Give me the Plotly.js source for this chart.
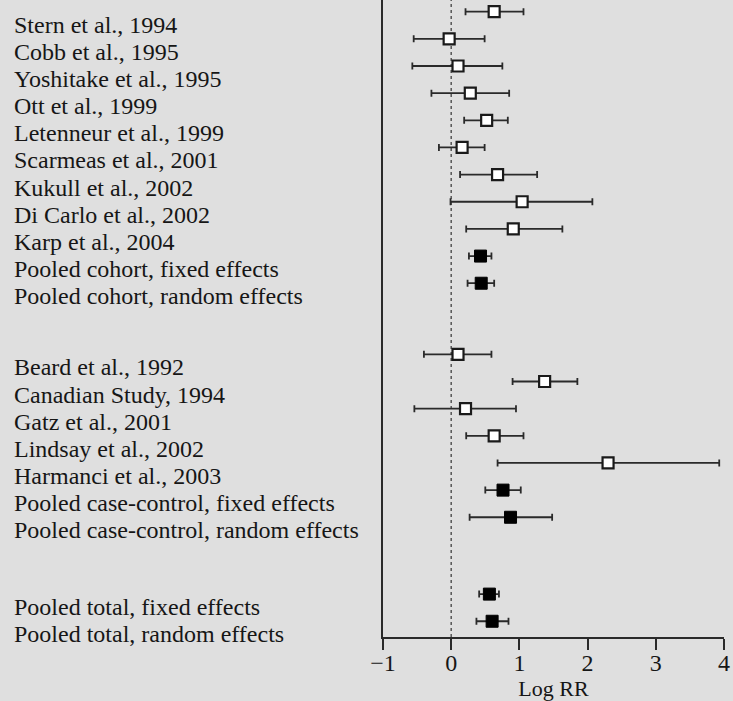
<!DOCTYPE html>
<html><head><meta charset="utf-8">
<script src="https://cdn.plot.ly/plotly-3.0.1.min.js"></script>
<style>html,body{margin:0;padding:0;background:#dfdfdf;}#chart{width:733px;height:701px;}</style>
</head><body><div id="chart"></div>
<script>
// ---- data (log relative risk, lower / upper limits) ----
const cohortLabels = ["Stern et al., 1994","Cobb et al., 1995","Yoshitake et al., 1995","Ott et al., 1999","Letenneur et al., 1999","Scarmeas et al., 2001","Kukull et al., 2002","Di Carlo et al., 2002","Karp et al., 2004","Pooled cohort, fixed effects","Pooled cohort, random effects"];
const cohortEst = [0.63,-0.03,0.10,0.28,0.52,0.16,0.68,1.04,0.91,0.43,0.44];
const cohortLo  = [0.21,-0.55,-0.57,-0.29,0.19,-0.18,0.13,-0.01,0.22,0.26,0.24];
const cohortHi  = [1.06,0.49,0.75,0.85,0.83,0.49,1.26,2.07,1.63,0.59,0.63];

const ccLabels = ["Beard et al., 1992","Canadian Study, 1994","Gatz et al., 2001","Lindsay et al., 2002","Harmanci et al., 2003","Pooled case-control, fixed effects","Pooled case-control, random effects"];
const ccEst = [0.10,1.37,0.21,0.63,2.30,0.76,0.87];
const ccLo  = [-0.40,0.90,-0.54,0.22,0.68,0.50,0.27];
const ccHi  = [0.59,1.85,0.95,1.06,3.93,1.02,1.48];

const totalLabels = ["Pooled total, fixed effects","Pooled total, random effects"];
const totalEst = [0.56,0.60];
const totalLo  = [0.41,0.37];
const totalHi  = [0.70,0.84];

const xTickVals = [-1,0,1,2,3,4];
const xTickText = ["\u22121","0","1","2","3","4"];

// ---- layout helpers ----
const groups = [
  {labels: cohortLabels, est: cohortEst, lo: cohortLo, hi: cohortHi},
  {labels: ccLabels, est: ccEst, lo: ccLo, hi: ccHi},
  {labels: totalLabels, est: totalEst, lo: totalLo, hi: totalHi}
];
const groupGaps = [0, 2.62, 2.83];

const study = {x:[], y:[], plus:[], minus:[]};
const pooled = {x:[], y:[], plus:[], minus:[]};
const annotations = [];
let row = 0;
groups.forEach((g, gi) => {
  if (gi > 0) row += groupGaps[gi] - 1;
  g.labels.forEach((lab, i) => {
    const target = lab.startsWith("Pooled") ? pooled : study;
    target.x.push(g.est[i]);
    target.y.push(row);
    target.plus.push(g.hi[i] - g.est[i]);
    target.minus.push(g.est[i] - g.lo[i]);
    annotations.push({
      xref: 'paper', yref: 'y', x: -1.088, y: row, xanchor: 'left', yanchor: 'middle',
      text: lab, showarrow: false, yshift: -13,
      font: {family: 'Liberation Serif, Times New Roman, serif', size: 24, color: '#161616'}
    });
    row += 1;
  });
});

const errStyle = (d) => ({type: 'data', symmetric: false, array: d.plus, arrayminus: d.minus,
  color: '#2a2a2a', thickness: 1.8, width: 3.5});

const traces = [
  {type: 'scatter', mode: 'markers', x: study.x, y: study.y, error_x: errStyle(study),
   marker: {symbol: 'square', size: 11, color: '#ffffff', line: {color: '#1a1a1a', width: 2.2}},
   hoverinfo: 'x', cliponaxis: false},
  {type: 'scatter', mode: 'markers', x: pooled.x, y: pooled.y, error_x: errStyle(pooled),
   marker: {symbol: 'square', size: 12, color: '#000000', line: {color: '#000000', width: 1}},
   hoverinfo: 'x', cliponaxis: false}
];

const layout = {
  width: 733, height: 701,
  margin: {l: 383, r: 9, t: 0, b: 64},
  paper_bgcolor: '#dfdfdf', plot_bgcolor: '#dfdfdf',
  showlegend: false,
  font: {family: 'Liberation Serif, Times New Roman, serif', color: '#161616'},
  xaxis: {
    range: [-1, 4], tickvals: xTickVals, ticktext: xTickText,
    showline: true, linecolor: '#2a2a2a', linewidth: 2,
    ticks: 'outside', ticklen: 11, tickwidth: 2, tickcolor: '#2a2a2a',
    ticklabelstandoff: -8,
    showgrid: false, zeroline: false,
    tickfont: {family: 'Liberation Serif, Times New Roman, serif', size: 24, color: '#161616'},
    title: {text: 'Log RR', font: {family: 'Liberation Serif, Times New Roman, serif', size: 22, color: '#161616'}, standoff: 14}
  },
  yaxis: {
    range: [23.03, -0.431], showline: true, linecolor: '#2a2a2a', linewidth: 2,
    showticklabels: false, ticks: '', showgrid: false, zeroline: false
  },
  shapes: [{type: 'line', xref: 'x', yref: 'paper', x0: 0, x1: 0, y0: 0, y1: 1,
    line: {color: '#555555', width: 1.5, dash: 'dot'}, layer: 'below'}],
  annotations: annotations
};

Plotly.newPlot('chart', traces, layout, {displayModeBar: false, staticPlot: true});
</script>
</body></html>
